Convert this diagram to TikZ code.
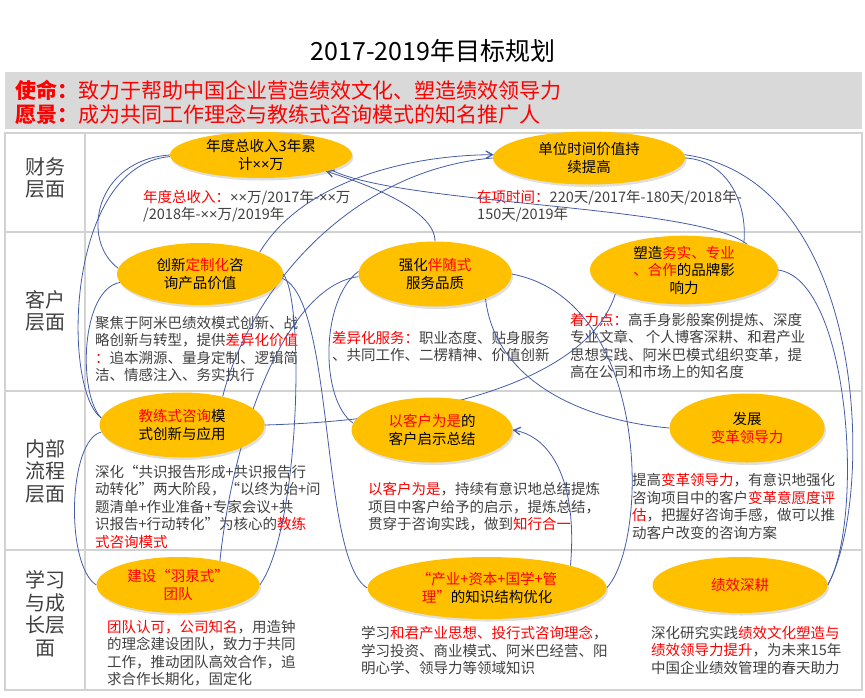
\documentclass[tikz,border=0pt]{standalone}
\usepackage{fontspec}
\setmainfont{Noto Sans CJK SC}
\newfontfamily\latinfont{Liberation Sans}
\usepackage{tikz}
\usetikzlibrary{arrows}
\usetikzlibrary{decorations.markings}
\usetikzlibrary{shapes.geometric}
\usetikzlibrary{shadows}
\newcommand{\xx}{{\latinfont ××}}
\definecolor{gold}{RGB}{255, 192, 0}
\definecolor{tred}{RGB}{255, 0, 0}
\definecolor{tgray}{RGB}{64, 64, 64}
\definecolor{lblue}{RGB}{68, 92, 168}
\definecolor{band}{RGB}{217, 217, 217}
\definecolor{grid}{RGB}{210, 210, 210}
\pgfdeclarelayer{back}
\pgfsetlayers{back,main}
\tikzset{link/.style = {lblue, line width = 0.8pt,
                        decoration={markings,
                                    mark=at position 1 with {\arrow[scale=1.6]{angle 60}}},
                        postaction={decorate}}}
\tikzset{goal/.style = {ellipse, fill = gold, inner sep = 0, align = center,
                        drop shadow = {opacity = 0.25, shadow xshift = 1.5pt, shadow yshift = -2.5pt},
                        font = \fontsize{14.5}{17.5}\selectfont}}
\tikzset{note/.style = {anchor = north west, inner sep = 0, align = left, text = tgray,
                        font = \fontsize{14.5}{17.5}\selectfont}}
\tikzset{layer/.style = {text = tgray, align = center, font = \fontsize{20}{22.5}\selectfont}}
\tikzset{grid/.style = {draw = grid, line width = 1.5pt}}

\begin{document}
\begin{tikzpicture}[x = 1pt, y = -1pt]
    \useasboundingbox (0, 0) rectangle (865, 697);

    \node [goal, minimum width = 182pt, minimum height = 46pt] (fin1) at (261, 155) {年度总收入3年累\\计\xx 万};
    \node [goal, minimum width = 192pt, minimum height = 53pt] (fin2) at (589, 158) {单位时间价值持\\续提高};
    \node [goal, minimum width = 166pt, minimum height = 62pt] (cus1) at (200, 274) {创新\textcolor{tred}{定制化}咨\\询产品价值};
    \node [goal, minimum width = 153pt, minimum height = 65pt] (cus2) at (435, 274) {强化\textcolor{tred}{伴随式}\\服务品质};
    \node [goal, minimum width = 188pt, minimum height = 60pt] (cus3) at (684, 270) {塑造\textcolor{tred}{务实、专业}\\\textcolor{tred}{、合作}的品牌影\\响力};
    \node [goal, minimum width = 165pt, minimum height = 65pt] (pro1) at (182, 425) {\textcolor{tred}{教练式咨询}模\\式创新与应用};
    \node [goal, minimum width = 161pt, minimum height = 65pt] (pro2) at (432, 430) {\textcolor{tred}{以客户为是}的\\客户启示总结};
    \node [goal, minimum width = 155pt, minimum height = 69pt] (pro3) at (747, 428) {发展\\\textcolor{tred}{变革领导力}};
    \node [goal, minimum width = 163pt, minimum height = 56pt] (lrn1) at (178, 585) {\textcolor{tred}{建设“羽泉式”}\\\textcolor{tred}{团队}};
    \node [goal, minimum width = 239pt, minimum height = 62pt] (lrn2) at (487, 588) {\textcolor{tred}{“产业+资本+国学+管}\\\textcolor{tred}{理”}的知识结构优化};
    \node [goal, minimum width = 175pt, minimum height = 56pt] (lrn3) at (740, 585) {\textcolor{tred}{绩效深耕}};

    \begin{pgfonlayer}{back}
    \node [font = \fontsize{25}{28}\selectfont] (title) at (433, 51) {2017-2019年目标规划};
    \fill [band] (5, 72) rectangle (862, 129);
    \node [anchor = west, text = tred, font = \fontsize{21}{24}\selectfont] (mission) at (12, 90) {\textbf{使命：}致力于帮助中国企业营造绩效文化、塑造绩效领导力};
    \node [anchor = west, text = tred, font = \fontsize{21}{24}\selectfont] (vision) at (12, 115) {\textbf{愿景：}成为共同工作理念与教练式咨询模式的知名推广人};

    \draw [grid] (5, 133) rectangle (862, 690);
    \draw [grid] (85, 133) -- (85, 690);
    \draw [grid] (5, 232) -- (862, 232);
    \draw [grid] (5, 391) -- (862, 391);
    \draw [grid] (5, 550) -- (862, 550);

    \node [layer] (finlab) at (45, 178) {财务\\层面};
    \node [layer] (cuslab) at (45, 311) {客户\\层面};
    \node [layer] (prolab) at (45, 471) {内部\\流程\\层面};
    \node [layer] (lrnlab) at (45, 614) {学习\\与成\\长层\\面};

    \node [note] (fin1txt) at (143, 190) {\textcolor{tred}{年度总收入：}\xx 万/2017年-\xx 万\\/2018年-\xx 万/2019年};
    \node [note] (fin2txt) at (477, 190) {\textcolor{tred}{在项时间：}220天/2017年-180天/2018年-\\150天/2019年};
    \node [note] (cus1txt) at (95, 316) {聚焦于阿米巴绩效模式创新、战\\略创新与转型，提供\textcolor{tred}{差异化价值}\\\textcolor{tred}{：}追本溯源、量身定制、逻辑简\\洁、情感注入、务实执行};
    \node [note] (cus2txt) at (332, 331) {\textcolor{tred}{差异化服务：}职业态度、贴身服务\\、共同工作、二楞精神、价值创新};
    \node [note] (cus3txt) at (570, 313) {\textcolor{tred}{着力点：}高手身影般案例提炼、深度\\专业文章、 个人博客深耕、和君产业\\思想实践、阿米巴模式组织变革，提\\高在公司和市场上的知名度};
    \node [note] (pro1txt) at (95, 465) {深化“共识报告形成+共识报告行\\动转化”两大阶段，“以终为始+问\\题清单+作业准备+专家会议+共\\识报告+行动转化”为核心的\textcolor{tred}{教练}\\\textcolor{tred}{式咨询模式}};
    \node [note] (pro2txt) at (368, 482) {\textcolor{tred}{以客户为是}，持续有意识地总结提炼\\项目中客户给予的启示，提炼总结，\\贯穿于咨询实践，做到\textcolor{tred}{知行合一}};
    \node [note] (pro3txt) at (632, 473) {提高\textcolor{tred}{变革领导力}，有意识地强化\\咨询项目中的客户\textcolor{tred}{变革意愿度评}\\\textcolor{tred}{估}，把握好咨询手感，做可以推\\动客户改变的咨询方案};
    \node [note] (lrn1txt) at (107, 620) {\textcolor{tred}{团队认可，公司知名}，用造钟\\的理念建设团队，致力于共同\\工作，推动团队高效合作，追\\求合作长期化，固定化};
    \node [note] (lrn2txt) at (361, 626) {学习\textcolor{tred}{和君产业思想、投行式咨询理念}，\\学习投资、商业模式、阿米巴经营、阳\\明心学、领导力等领域知识};
    \node [note] (lrn3txt) at (651, 626) {深化研究实践\textcolor{tred}{绩效文化塑造与}\\\textcolor{tred}{绩效领导力提升}，为未来15年\\中国企业绩效管理的春天助力};

    \draw [link] (cus1.176) .. controls (80, 240) and (95, 160) .. (fin1.west);
    \draw [link] (pro1.175) .. controls (62, 390) and (65, 165) .. (fin1.181);
    \draw [link] (pro1.175) .. controls (78, 395) and (80, 290) .. (cus1.186);
    \draw [link] (lrn1.west) .. controls (65, 565) and (68, 440) .. (pro1.185);
    \draw [link] (lrn1.east) .. controls (300, 530) and (305, 300) .. (cus1.east);
    \draw [link] (lrn2.west) .. controls (320, 560) and (335, 300) .. (cus1.-3);
    \draw [link] (lrn1.30) .. controls (235, 420) and (290, 285) .. (cus2.182);
    \draw [link] (pro2.175) .. controls (320, 400) and (320, 300) .. (cus2.178);
    \draw [link] (pro1.east) .. controls (450, 420) and (590, 375) .. (cus3.199);
    \draw [link] (pro1.35) .. controls (250, 290) and (350, 170) .. (fin2.west);
    \draw [link] (cus1.20) .. controls (300, 185) and (400, 155) .. (fin2.178);
    \draw [link] (cus2.north) .. controls (435, 210) and (370, 185) .. (fin1.-14);
    \draw [link] (cus3.22) .. controls (700, 205) and (400, 205) .. (fin1.-12);
    \draw [link] (cus3.24) .. controls (748, 200) and (725, 160) .. (fin2.east);
    \draw [link] (lrn3.east) .. controls (875, 500) and (870, 180) .. (fin2.2);
    \draw [link] (lrn3.east) .. controls (865, 520) and (850, 280) .. (cus3.east);
    \draw [link] (pro3.west) .. controls (580, 420) and (495, 380) .. (cus2.-26);
    \draw [link] (lrn2.east) .. controls (650, 540) and (650, 300) .. (cus2.east);
    \draw [link] (lrn2.15) .. controls (578, 480) and (550, 435) .. (pro2.east);
    \end{pgfonlayer}
\end{tikzpicture}
\end{document}
